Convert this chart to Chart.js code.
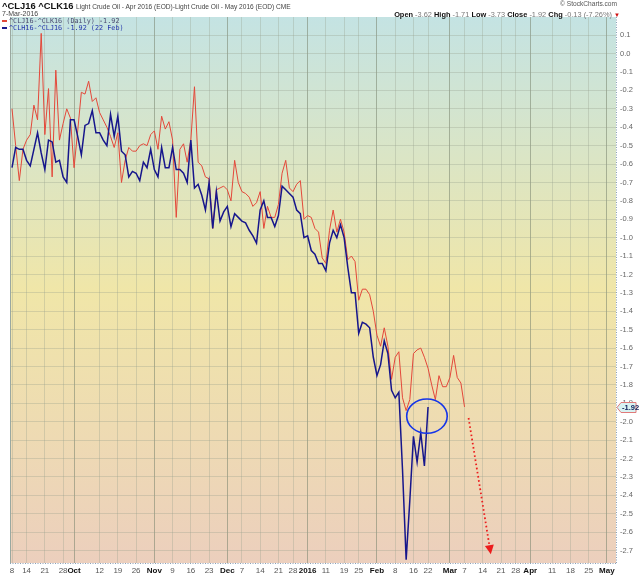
<!DOCTYPE html>
<html>
<head>
<meta charset="utf-8">
<script src="https://cdn.jsdelivr.net/npm/chart.js@4.4.1/dist/chart.umd.min.js"></script>
<style>
  html, body { margin: 0; padding: 0; background: #fff; }
  body { width: 640px; height: 576px; position: relative; overflow: hidden; font-family: "Liberation Sans", Arial, sans-serif; }
  #c { position: absolute; left: 0; top: 0; }
  .t { position: absolute; white-space: nowrap; line-height: 1; }
  .lg { font-family: "DejaVu Sans Mono", monospace; font-size: 6.8px; }
  .sw { display: inline-block; width: 5px; height: 1.5px; vertical-align: middle; margin-right: 2px; }
  .hl b { color: #111; }
  .hl span { color: #777; }
</style>
</head>
<body>
<canvas id="c" width="640" height="576"></canvas>

<div class="t" style="left:2px;top:1px;font-weight:bold;font-size:9.4px;color:#111;">^CLJ16 ^CLK16
  <span style="font-weight:normal;font-size:6.6px;color:#444;">Light Crude Oil - Apr 2016 (EOD)-Light Crude Oil - May 2016 (EOD) CME</span></div>
<div class="t" style="left:2px;top:10px;font-size:7px;color:#444;">7-Mar-2016</div>
<div class="t" style="right:23px;top:1px;font-size:6.6px;color:#555;">© StockCharts.com</div>
<div class="t hl" style="right:20px;top:11px;font-size:7.4px;">
  <b>Open</b> <span>-3.62</span> <b>High</b> <span>-1.71</span> <b>Low</b> <span>-3.73</span> <b>Close</b> <span>-1.92</span> <b>Chg</b> <span>-0.13 (-7.26%)</span> <span style="color:#d01010;font-size:6px;">▼</span></div>
<div class="t lg" style="left:2px;top:18px;color:#4a4a70;"><span class="sw" style="background:#e04a3a"></span>^CLJ16-^CLK16 (Daily) -1.92</div>
<div class="t lg" style="left:2px;top:25px;color:#2233aa;"><span class="sw" style="background:#1a1a8c"></span>^CLH16-^CLJ16 -1.92 (22 Feb)</div>

<script>
// trading-day index 0 = 8 Sep 2015
const redVals = [
  -0.30, -0.50, -0.69, -0.52, -0.47, -0.44, -0.28, -0.36, 0.11, -0.44,
  -0.19, -0.67, -0.09, -0.47, -0.38, -0.30, -0.35, -0.62, -0.42, -0.21,
  -0.22, -0.15, -0.26, -0.24, -0.32, -0.36, -0.40, -0.45, -0.51, -0.43,
  -0.70, -0.58, -0.51, -0.53, -0.53, -0.50, -0.49, -0.50, -0.44, -0.42,
  -0.52, -0.34, -0.41, -0.37, -0.47, -0.89, -0.52, -0.49, -0.59, -0.47,
  -0.18, -0.59, -0.61, -0.67, -0.68, -0.95, -0.74, -0.73, -0.72, -0.74,
  -0.80, -0.58, -0.70, -0.75, -0.76, -0.78, -0.83, -0.81, -0.75, -0.95,
  -0.83, -0.89, -0.89, -0.82, -0.65, -0.58, -0.73, -0.75, -0.71, -0.69,
  -0.90, -0.88, -0.89, -0.95, -0.97, -1.11, -1.14, -0.96, -0.85, -0.97,
  -0.90, -0.97, -1.12, -1.10, -1.13, -1.34, -1.28, -1.28, -1.31, -1.40,
  -1.53, -1.59, -1.49, -1.59, -1.77, -1.65, -1.62, -1.87, -1.94, -1.88,
  -1.63, -1.61, -1.60, -1.65, -1.71, -1.80, -1.88, -1.75, -1.81, -1.81,
  -1.76, -1.64, -1.76, -1.79, -1.92
];
const blueVals = [
  -0.62, -0.51, -0.52, -0.52, -0.58, -0.61, -0.52, -0.43, -0.54, -0.63,
  -0.47, -0.48, -0.59, -0.58, -0.67, -0.70, -0.36, -0.36, -0.45, -0.55,
  -0.39, -0.38, -0.31, -0.43, -0.43, -0.47, -0.50, -0.33, -0.45, -0.34,
  -0.53, -0.55, -0.67, -0.64, -0.65, -0.69, -0.59, -0.62, -0.52, -0.63,
  -0.67, -0.51, -0.62, -0.62, -0.51, -0.63, -0.63, -0.65, -0.70, -0.47,
  -0.73, -0.71, -0.77, -0.85, -0.70, -0.95, -0.75, -0.91, -0.86, -0.83,
  -0.94, -0.87, -0.89, -0.91, -0.92, -0.96, -0.99, -1.03, -0.85, -0.80,
  -0.89, -0.89, -0.94, -0.88, -0.72, -0.74, -0.76, -0.78, -0.85, -0.87,
  -1.00, -0.99, -1.07, -1.09, -1.14, -1.14, -1.18, -1.03, -0.96, -1.00,
  -0.93, -1.00, -1.16, -1.30, -1.30, -1.52, -1.46, -1.47, -1.49, -1.65,
  -1.75, -1.69, -1.56, -1.63, -1.83, -1.87, -1.84, -2.26, -2.75, -2.43,
  -2.08, -2.22, -2.06, -2.24, -1.92
];

const xTickIdx = [0, 4, 9, 14, 17, 24, 29, 34, 39, 44, 49, 54, 59, 63, 68, 73, 77, 81, 86, 91,
  95, 100, 105, 110, 114, 120, 124, 129, 134, 138, 142, 148, 153, 158, 163];
const xTickLabels = ['8', '14', '21', '28', 'Oct', '12', '19', '26', 'Nov', '9', '16', '23', 'Dec', '7', '14', '21', '28', '2016', '11', '19',
  '25', 'Feb', '8', '16', '22', 'Mar', '7', '14', '21', '28', 'Apr', '11', '18', '25', 'May'];
const monthIdx = [17, 39, 59, 81, 100, 120, 142, 163];
const yTicks = [0.1, 0.0, -0.1, -0.2, -0.3, -0.4, -0.5, -0.6, -0.7, -0.8, -0.9, -1.0, -1.1, -1.2, -1.3, -1.4,
  -1.5, -1.6, -1.7, -1.8, -1.9, -2.0, -2.1, -2.2, -2.3, -2.4, -2.5, -2.6, -2.7];

// hand-drawn marks, in data units
const circleMark = { x: 113.7, y: -1.97, rx: 5.55, ry: 0.093 };
const arrowFrom = { x: 125.1, y: -1.98 };
const arrowTo = { x: 131.2, y: -2.72 };

const FONT = '"Liberation Sans", Arial, sans-serif';

const deco = {
  id: 'deco',
  beforeDraw(chart) {
    const { ctx, chartArea: a } = chart;
    ctx.save();
    ctx.fillStyle = '#fff';
    ctx.fillRect(0, 0, chart.width, chart.height);
    const g = ctx.createLinearGradient(0, a.top, 0, a.bottom);
    g.addColorStop(0, '#c4e3e3');
    g.addColorStop(0.25, '#dae5c6');
    g.addColorStop(0.5, '#f0e6a8');
    g.addColorStop(0.75, '#eedbb2');
    g.addColorStop(1, '#eccfbd');
    ctx.fillStyle = g;
    ctx.fillRect(a.left, a.top, a.right - a.left, a.bottom - a.top);
    ctx.restore();
  },
  afterDatasetsDraw(chart) {
    const { ctx } = chart;
    const xs = chart.scales.x, ys = chart.scales.y;
    ctx.save();
    // ellipse
    const cx = xs.getPixelForValue(circleMark.x), cy = ys.getPixelForValue(circleMark.y);
    const rx = xs.getPixelForValue(circleMark.x + circleMark.rx) - cx;
    const ry = ys.getPixelForValue(circleMark.y - circleMark.ry) - cy;
    ctx.strokeStyle = '#1535e8';
    ctx.lineWidth = 1.6;
    ctx.beginPath();
    ctx.ellipse(cx, cy, rx, ry, 0, 0, Math.PI * 2);
    ctx.stroke();
    // dotted arrow
    const x0 = xs.getPixelForValue(arrowFrom.x), y0 = ys.getPixelForValue(arrowFrom.y);
    const x1 = xs.getPixelForValue(arrowTo.x), y1 = ys.getPixelForValue(arrowTo.y);
    const ang = Math.atan2(y1 - y0, x1 - x0);
    const hl = 9, hw = 4.5;
    const bx = x1 - hl * Math.cos(ang), by = y1 - hl * Math.sin(ang);
    ctx.strokeStyle = '#ec1c1c';
    ctx.fillStyle = '#ec1c1c';
    ctx.lineWidth = 1.8;
    ctx.setLineDash([1.6, 2.6]);
    ctx.beginPath();
    ctx.moveTo(x0, y0);
    ctx.lineTo(bx, by);
    ctx.stroke();
    ctx.setLineDash([]);
    ctx.beginPath();
    ctx.moveTo(x1, y1);
    ctx.lineTo(bx + hw * Math.sin(ang), by - hw * Math.cos(ang));
    ctx.lineTo(bx - hw * Math.sin(ang), by + hw * Math.cos(ang));
    ctx.closePath();
    ctx.fill();
    ctx.restore();
  },
  afterDraw(chart) {
    const { ctx, chartArea: a } = chart;
    const ys = chart.scales.y;
    ctx.save();
    // dotted frame lines
    ctx.strokeStyle = '#8aa0b8';
    ctx.lineWidth = 1;
    ctx.setLineDash([1, 1.5]);
    ctx.beginPath();
    ctx.moveTo(a.right + 0.5, a.top);
    ctx.lineTo(a.right + 0.5, a.bottom);
    ctx.moveTo(a.left, a.bottom + 0.5);
    ctx.lineTo(a.right, a.bottom + 0.5);
    ctx.stroke();
    ctx.setLineDash([]);
    ctx.strokeStyle = '#9aa8a0';
    ctx.beginPath();
    ctx.moveTo(a.left + 0.5, a.top);
    ctx.lineTo(a.left + 0.5, a.bottom);
    ctx.stroke();
    // last value tag
    const last = redVals[redVals.length - 1];
    const py = Math.round(ys.getPixelForValue(last)) + 0.5;
    const l = a.right + 1, r = 636, h = 5;
    ctx.fillStyle = '#d8f2f2';
    ctx.strokeStyle = '#e07a7a';
    ctx.beginPath();
    ctx.moveTo(l, py);
    ctx.lineTo(l + 4, py - h);
    ctx.lineTo(r, py - h);
    ctx.lineTo(r, py + h);
    ctx.lineTo(l + 4, py + h);
    ctx.closePath();
    ctx.fill();
    ctx.stroke();
    ctx.fillStyle = '#10205a';
    ctx.font = 'bold 7.5px ' + FONT;
    ctx.textAlign = 'left';
    ctx.textBaseline = 'middle';
    ctx.fillText(last.toFixed(2), l + 5, py + 0.5);
    ctx.restore();
  }
};

new Chart(document.getElementById('c'), {
  type: 'line',
  data: {
    datasets: [
      {
        label: '^CLH16-^CLJ16',
        data: blueVals.map((v, i) => ({ x: i, y: v })),
        borderColor: '#16168c',
        borderWidth: 1.5,
        pointRadius: 0,
        tension: 0,
        order: 0
      },
      {
        label: '^CLJ16-^CLK16',
        data: redVals.map((v, i) => ({ x: i, y: v })),
        borderColor: '#e4483a',
        borderWidth: 1,
        pointRadius: 0,
        tension: 0,
        order: 1
      }
    ]
  },
  options: {
    responsive: false,
    animation: false,
    devicePixelRatio: 1,
    layout: { padding: { left: 10, top: 17, right: 0, bottom: 0 } },
    plugins: { legend: { display: false }, tooltip: { enabled: false } },
    scales: {
      x: {
        type: 'linear',
        min: -0.55,
        max: 165.5,
        afterBuildTicks: s => { s.ticks = xTickIdx.map(v => ({ value: v })); },
        afterFit: s => { s.height = 13; },
        border: { display: false },
        grid: {
          drawTicks: false,
          color: c => monthIdx.includes(c.tick && c.tick.value) ? 'rgba(120,132,110,0.55)' : 'rgba(150,160,140,0.32)',
          lineWidth: 1
        },
        ticks: {
          autoSkip: false,
          maxRotation: 0,
          padding: 3,
          color: c => monthIdx.includes(c.tick && c.tick.value) ? '#111' : '#555',
          font: c => ({ family: FONT, size: 8, weight: monthIdx.includes(c.tick && c.tick.value) ? 'bold' : 'normal' }),
          callback: (v, i) => xTickLabels[i]
        }
      },
      y: {
        position: 'right',
        min: -2.768,
        max: 0.199,
        afterBuildTicks: s => { s.ticks = yTicks.map(v => ({ value: v })); },
        afterFit: s => { s.width = 24; },
        border: { display: false },
        grid: { drawTicks: false, color: 'rgba(150,160,140,0.32)', lineWidth: 1 },
        ticks: {
          autoSkip: false,
          padding: 4,
          color: '#666',
          font: { family: FONT, size: 7.5 },
          callback: v => (Math.abs(v) < 1e-9 ? 0 : v).toFixed(1)
        }
      }
    }
  },
  plugins: [deco]
});
</script>
</body>
</html>
